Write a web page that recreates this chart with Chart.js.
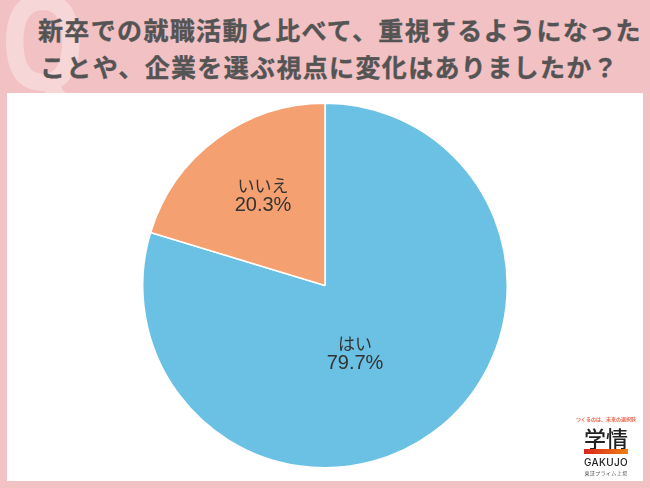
<!DOCTYPE html>
<html lang="ja">
<head>
<meta charset="utf-8">
<script src="https://cdn.jsdelivr.net/npm/chart.js@4/dist/chart.umd.min.js"></script>
<style>
  html, body { margin: 0; padding: 0; }
  body { width: 650px; height: 488px; background: #f2c1c3; position: relative; overflow: hidden;
         font-family: "Noto Sans CJK JP", sans-serif; }
  .q { position: absolute; left: 0; top: -27px; font: 700 132px/1 "Noto Sans", sans-serif; color: #f6d6d7;
       transform: scaleX(.82); transform-origin: 0 0; }
  .title { position: absolute; white-space: nowrap; font-weight: 700; font-size: 25px; line-height: 30px;
           letter-spacing: 1.35px; color: #545454; -webkit-text-stroke: .35px #545454; }
  .panel { position: absolute; left: 7px; top: 93px; width: 636px; height: 388px; background: #fff; }
  canvas { position: absolute; left: 7px; top: 93px; }
  .logo { position: absolute; left: 571px; top: 413px; width: 70px; text-align: center; color: #333; }
  .logo div { position: absolute; left: 0; width: 70px; white-space: nowrap; }
  .tag { top: 2px; font-size: 5px; line-height: 8px; font-weight: 700; color: #ee6a50; }
  .kanji { top: 12px; font-size: 22px; line-height: 24px; font-weight: 500; color: #222; }
  .bar { left: 13px !important; width: 44px !important; top: 36px; height: 5px; background: linear-gradient(90deg, #d8261c, #f08010); }
  .gakujo { top: 43px; font: 500 10px/13px "Inter", sans-serif; letter-spacing: .3px; color: #222; }
  .market { top: 56px; font-size: 5px; line-height: 7px; letter-spacing: .4px; color: #555; }
</style>
</head>
<body>
<div class="q">Q</div>
<div class="title" style="left:38px;top:14px">新卒での就職活動と比べて、重視するようになった</div>
<div class="title" style="left:40px;top:51px">ことや、企業を選ぶ視点に変化はありましたか？</div>
<div class="panel"></div>
<canvas id="pie" width="636" height="385" style="width:636px;height:385px"></canvas>
<div class="logo">
  <div class="tag">つくるのは、未来の選択肢</div>
  <div class="kanji">学情</div>
  <div class="bar"></div>
  <div class="gakujo">GAKUJO</div>
  <div class="market">東証プライム上場</div>
</div>
<script>
const categories = ['はい', 'いいえ'];
const shares = [79.7, 20.3];
const sliceColors = ['#6bc1e3', '#f4a071'];
// label nudge from the chart centre, as in the reference (not at slice mid-radius)
const labelOffsets = [[30, 68], [-62, -90]];

const sliceLabels = {
    id: 'sliceLabels',
    afterDatasetsDraw(chart) {
        const { ctx } = chart;
        const arcs = chart.getDatasetMeta(0).data;
        ctx.save();
        ctx.fillStyle = '#333';
        ctx.textAlign = 'center';
        ctx.textBaseline = 'middle';
        arcs.forEach((arc, i) => {
            const x = arc.x + labelOffsets[i][0];
            const y = arc.y + labelOffsets[i][1];
            ctx.font = '17px "Noto Sans CJK JP", sans-serif';
            ctx.fillText(categories[i], x, y - 10);
            ctx.font = '20px "Liberation Sans", sans-serif';
            ctx.fillText(shares[i].toFixed(1) + '%', x, y + 10);
        });
        ctx.restore();
    }
};

new Chart(document.getElementById('pie'), {
    type: 'pie',
    data: {
        labels: categories,
        datasets: [{
            data: shares,
            backgroundColor: sliceColors,
            borderColor: '#fff',
            borderWidth: 1.5
        }]
    },
    options: {
        responsive: false,
        animation: false,
        layout: { padding: 9.5 },
        plugins: { legend: { display: false }, tooltip: { enabled: false } }
    },
    plugins: [sliceLabels]
});
</script>
</body>
</html>
